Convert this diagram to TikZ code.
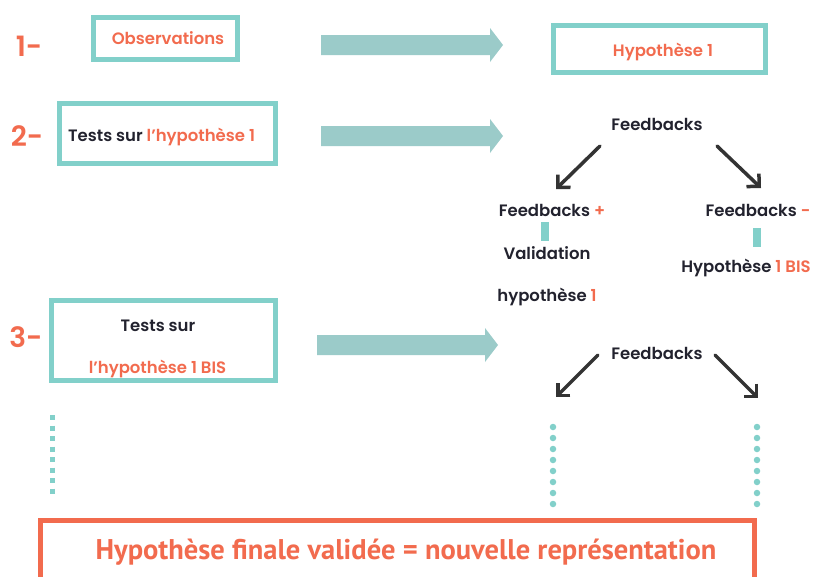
\documentclass[tikz,border=0pt]{standalone}
\usepackage{fontspec}
\setmainfont{Poppins}[BoldFont={Poppins SemiBold}]
\newfontfamily\condfont{PT Sans}
\usetikzlibrary{arrows.meta}
\definecolor{org}{HTML}{F26B4E}
\definecolor{tealbox}{HTML}{82D0CA}
\definecolor{tealarr}{HTML}{9BCBC9}
\definecolor{ink}{HTML}{22222E}
\definecolor{arrgray}{HTML}{333333}
\begin{document}
\begin{tikzpicture}[x=1pt,y=-1pt,
  box/.style={draw=tealbox, line width=5pt, inner sep=0pt},
  txt/.style={font=\fontsize{16.5}{18}\selectfont\bfseries, text=ink, inner sep=0pt},
  num/.style={font=\fontsize{28}{30}\selectfont\bfseries, text=org, inner sep=0pt},
  fb/.style={-{Straight Barb[length=9pt,width=18pt]}, line width=3.5pt, draw=arrgray, line cap=round},
  bar/.style={fill=tealbox},
  dotv/.style={draw=tealbox, line width=6.5pt, dash pattern=on 0pt off 11pt, line cap=round},
  dashv/.style={draw=tealbox, line width=5pt, dash pattern=on 5pt off 5.5pt},
  blockarrow/.style={fill=tealarr},
]
\useasboundingbox[fill=white] (0,0) rectangle (814,576);

% numbers
\node[num] (n1) at (29,46) {1-};
\node[num] (n2) at (27,136) {2-};
\node[num] (n3) at (26,337) {3-};

% step 1
\node[box, minimum width=144pt, minimum height=42pt] (obs) at (165.5,38.5) {};
\node[txt, text=org] (obst) at (168,38) {Observations};
\fill[blockarrow] (321,35) -- (490,35) -- (490,28) -- (503,45) -- (490,62) -- (490,55) -- (321,55) -- cycle;
\node[box, minimum width=212pt, minimum height=47pt] (hyp) at (659.5,49) {};
\node[txt, text=org] (hypt) at (663,52) {Hypothèse 1};

% step 2
\node[box, minimum width=216pt, minimum height=60pt] (t2) at (167.5,133.5) {};
\node[txt, anchor=west] (t2t) at (68,137) {Tests sur \textcolor{org}{l’hypothèse 1}};
\fill[blockarrow] (321,126) -- (490,126) -- (490,119) -- (503,136) -- (490,153) -- (490,146) -- (321,146) -- cycle;
\node[txt] (fbA) at (657,124) {Feedbacks};
\coordinate (aLs) at (600,146);
\coordinate (aLe) at (556,189);
\coordinate (aRs) at (717,146);
\coordinate (aRe) at (761,188);
\draw[fb] (aLs) -- (aLe);
\draw[fb] (aRs) -- (aRe);
\node[txt] (fbp) at (552,210) {Feedbacks \textcolor{org}{+}};
\fill[bar] (541,222) rectangle (549,241);
\node[txt] (val) at (547,253) {Validation};
\node[txt] (hv) at (547,297) {hypothèse \textcolor{org}{1}};
\node[txt] (fbm) at (758,210) {Feedbacks \textcolor{org}{-}};
\fill[bar] (753,228) rectangle (761,247);
\node[txt] (hbis) at (746,268) {Hypothèse \textcolor{org}{1 BIS}};

% step 3
\node[box, minimum width=224pt, minimum height=80pt] (t3) at (163.5,340.5) {};
\node[txt] (t3a) at (158,326) {Tests sur};
\node[txt, text=org] (t3b) at (157.5,369) {l’hypothèse 1 BIS};
\fill[blockarrow] (317,335) -- (485,335) -- (485,328) -- (498,345) -- (485,362) -- (485,355) -- (317,355) -- cycle;
\node[txt] (fbB) at (657,353) {Feedbacks};
\coordinate (bLs) at (598,355);
\coordinate (bLe) at (556,397);
\coordinate (bRs) at (715,355);
\coordinate (bRe) at (758,398);
\draw[fb] (bLs) -- (bLe);
\draw[fb] (bRs) -- (bRe);

% dotted continuation
\coordinate (d1s) at (52,415);
\coordinate (d1e) at (52,496);
\draw[dashv] (d1s) -- (d1e);
\coordinate (d2s) at (553,427);
\coordinate (d2e) at (553,506);
\draw[dotv] (d2s) -- (d2e);
\coordinate (d3s) at (757,427);
\coordinate (d3e) at (757,506);
\draw[dotv] (d3s) -- (d3e);

% final box
\node[draw=org, line width=5pt, minimum width=714pt, minimum height=70pt, inner sep=0pt] (fin) at (397.5,555.5) {};
\node[text=org, inner sep=0pt, font=\condfont\bfseries\fontsize{28.5}{30}\selectfont] (fint) at (406,552) {Hypothèse finale validée = nouvelle représentation};
\end{tikzpicture}
\end{document}
